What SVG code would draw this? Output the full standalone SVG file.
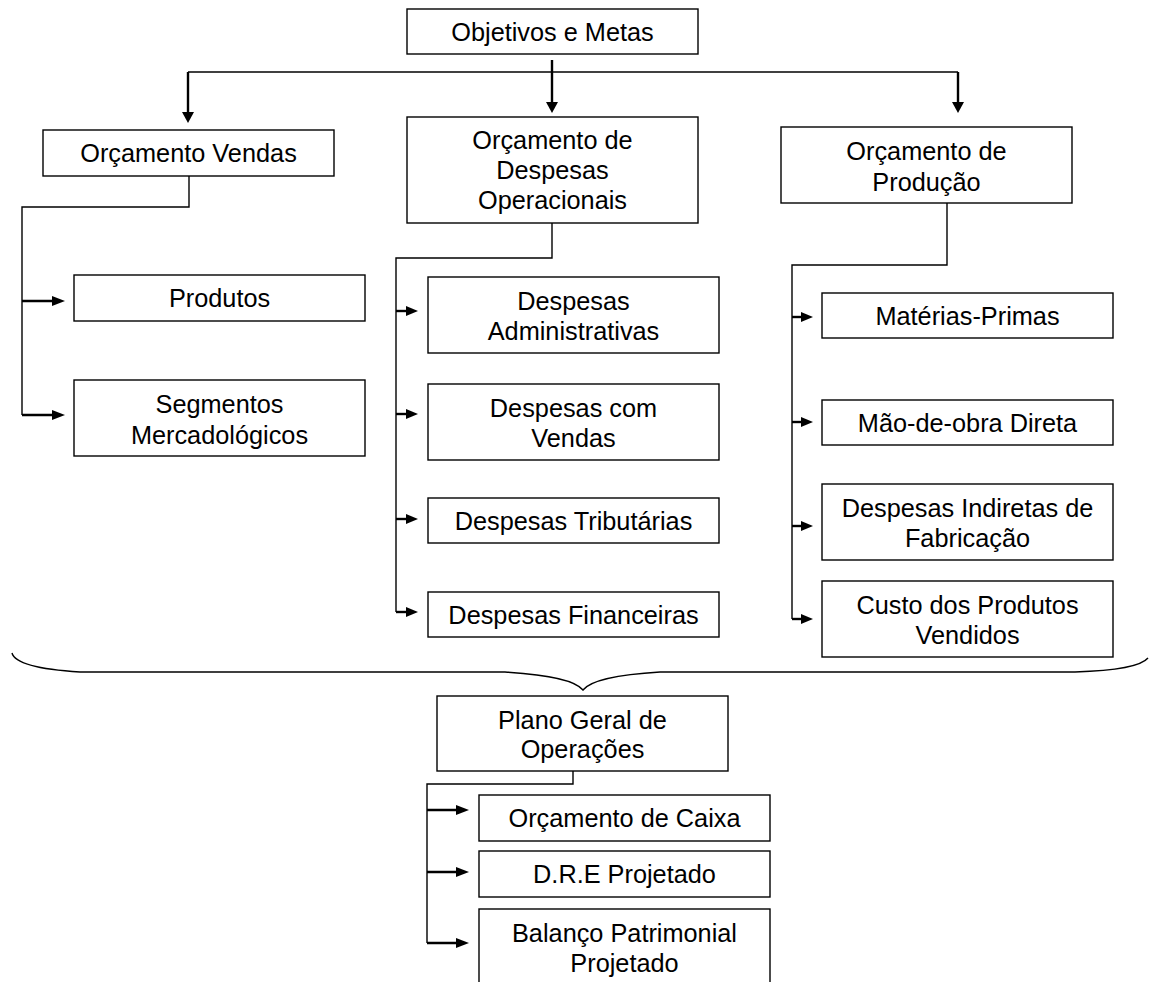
<svg xmlns="http://www.w3.org/2000/svg" width="1150" height="982" viewBox="0 0 1150 982">
<style>
.box{fill:#fff;stroke:#000;stroke-width:1.4}
.t{font-family:"Liberation Sans",Arial,sans-serif;font-size:25.3px;fill:#000;text-anchor:middle}
.ln{fill:none;stroke:#000;stroke-width:1.4}
.ar{fill:none;stroke:#000;stroke-width:2.4;marker-end:url(#ah)}
.arb{fill:none;stroke:#000;stroke-width:2.4;marker-end:url(#ahb)}
.ars{fill:none;stroke:#000;stroke-width:2.4;marker-end:url(#ahs)}
</style>
<defs>
<marker id="ah" markerUnits="userSpaceOnUse" markerWidth="13" markerHeight="10" viewBox="0 0 13 10" refX="7" refY="5" orient="auto"><path d="M0,0 L13,5 L0,10 z" fill="#000"/></marker>
<marker id="ahb" markerUnits="userSpaceOnUse" markerWidth="11" markerHeight="12" viewBox="0 0 11 12" refX="6" refY="6" orient="auto"><path d="M0,0 L11,6 L0,12 z" fill="#000"/></marker>
<marker id="ahs" markerUnits="userSpaceOnUse" markerWidth="12" markerHeight="10" viewBox="0 0 12 10" refX="6" refY="5" orient="auto"><path d="M0,0 L12,5 L0,10 z" fill="#000"/></marker>
</defs>

<g id="connectors">
<path class="ln" d="M188,72 L958,72"/>
<path class="arb" d="M188,72 L188,118"/>
<path class="arb" d="M552,60 L552,108"/>
<path class="arb" d="M958,72 L958,108"/>

<path class="ln" d="M189,176 L189,207 L22,207 L22,415"/>
<path class="ar" d="M22,301 L59,301"/>
<path class="ar" d="M22,415 L59,415"/>

<path class="ln" d="M552,223 L552,258 L396,258 L396,612"/>
<path class="ars" d="M396,311 L412,311"/>
<path class="ars" d="M396,414 L412,414"/>
<path class="ars" d="M396,519 L412,519"/>
<path class="ars" d="M396,612 L412,612"/>

<path class="ln" d="M947,203 L947,265 L792,265 L792,619"/>
<path class="ars" d="M792,317 L807,317"/>
<path class="ars" d="M792,422 L807,422"/>
<path class="ars" d="M792,526 L807,526"/>
<path class="ars" d="M792,619 L807,619"/>

<path class="ln" d="M12,653 Q16,668 80,672 L505,672 Q572,676 583,690 Q594,676 660,672 L1075,672 Q1138,670 1148,658"/>

<path class="ln" d="M573,771 L573,784 L427,784 L427,943"/>
<path class="ar" d="M427,810 L463,810"/>
<path class="ar" d="M427,872 L463,872"/>
<path class="ar" d="M427,943 L463,943"/>
</g>

<g id="objetivos"><rect class="box" x="407" y="9" width="291" height="45"/><text class="t" x="552.5" y="41">Objetivos e Metas</text></g>
<g id="orcamento-vendas"><rect class="box" x="43" y="130" width="291" height="46"/><text class="t" x="188.5" y="162">Orçamento Vendas</text></g>
<g id="orcamento-despesas"><rect class="box" x="407" y="117" width="291" height="106"/><text class="t" x="552.5" y="149">Orçamento de</text><text class="t" x="552.5" y="179">Despesas</text><text class="t" x="552.5" y="209">Operacionais</text></g>
<g id="orcamento-producao"><rect class="box" x="781" y="127" width="291" height="76"/><text class="t" x="926.5" y="160">Orçamento de</text><text class="t" x="926.5" y="190.5">Produção</text></g>

<g id="produtos"><rect class="box" x="74" y="275" width="291" height="46"/><text class="t" x="219.5" y="307">Produtos</text></g>
<g id="segmentos"><rect class="box" x="74" y="380" width="291" height="76"/><text class="t" x="219.5" y="413">Segmentos</text><text class="t" x="219.5" y="443.5">Mercadológicos</text></g>

<g id="desp-admin"><rect class="box" x="428" y="277" width="291" height="76"/><text class="t" x="573.5" y="310">Despesas</text><text class="t" x="573.5" y="340">Administrativas</text></g>
<g id="desp-vendas"><rect class="box" x="428" y="384" width="291" height="76"/><text class="t" x="573.5" y="416.5">Despesas com</text><text class="t" x="573.5" y="446.5">Vendas</text></g>
<g id="desp-trib"><rect class="box" x="428" y="498" width="291" height="45"/><text class="t" x="573.5" y="529.5">Despesas Tributárias</text></g>
<g id="desp-fin"><rect class="box" x="428" y="592" width="291" height="45"/><text class="t" x="573.5" y="623.5">Despesas Financeiras</text></g>

<g id="materias"><rect class="box" x="822" y="293" width="291" height="45"/><text class="t" x="967.5" y="324.5">Matérias-Primas</text></g>
<g id="mao-obra"><rect class="box" x="822" y="400" width="291" height="45"/><text class="t" x="967.5" y="431.5">Mão-de-obra Direta</text></g>
<g id="desp-indiretas"><rect class="box" x="822" y="484" width="291" height="76"/><text class="t" x="967.5" y="517">Despesas Indiretas de</text><text class="t" x="967.5" y="547">Fabricação</text></g>
<g id="custo"><rect class="box" x="822" y="581" width="291" height="76"/><text class="t" x="967.5" y="614">Custo dos Produtos</text><text class="t" x="967.5" y="644">Vendidos</text></g>

<g id="plano"><rect class="box" x="437" y="696" width="291" height="75"/><text class="t" x="582.5" y="728.5">Plano Geral de</text><text class="t" x="582.5" y="758">Operações</text></g>
<g id="caixa"><rect class="box" x="479" y="795" width="291" height="46"/><text class="t" x="624.5" y="827">Orçamento de Caixa</text></g>
<g id="dre"><rect class="box" x="479" y="851" width="291" height="46"/><text class="t" x="624.5" y="883">D.R.E Projetado</text></g>
<g id="balanco"><rect class="box" x="479" y="909" width="291" height="80"/><text class="t" x="624.5" y="942">Balanço Patrimonial</text><text class="t" x="624.5" y="972">Projetado</text></g>
</svg>
